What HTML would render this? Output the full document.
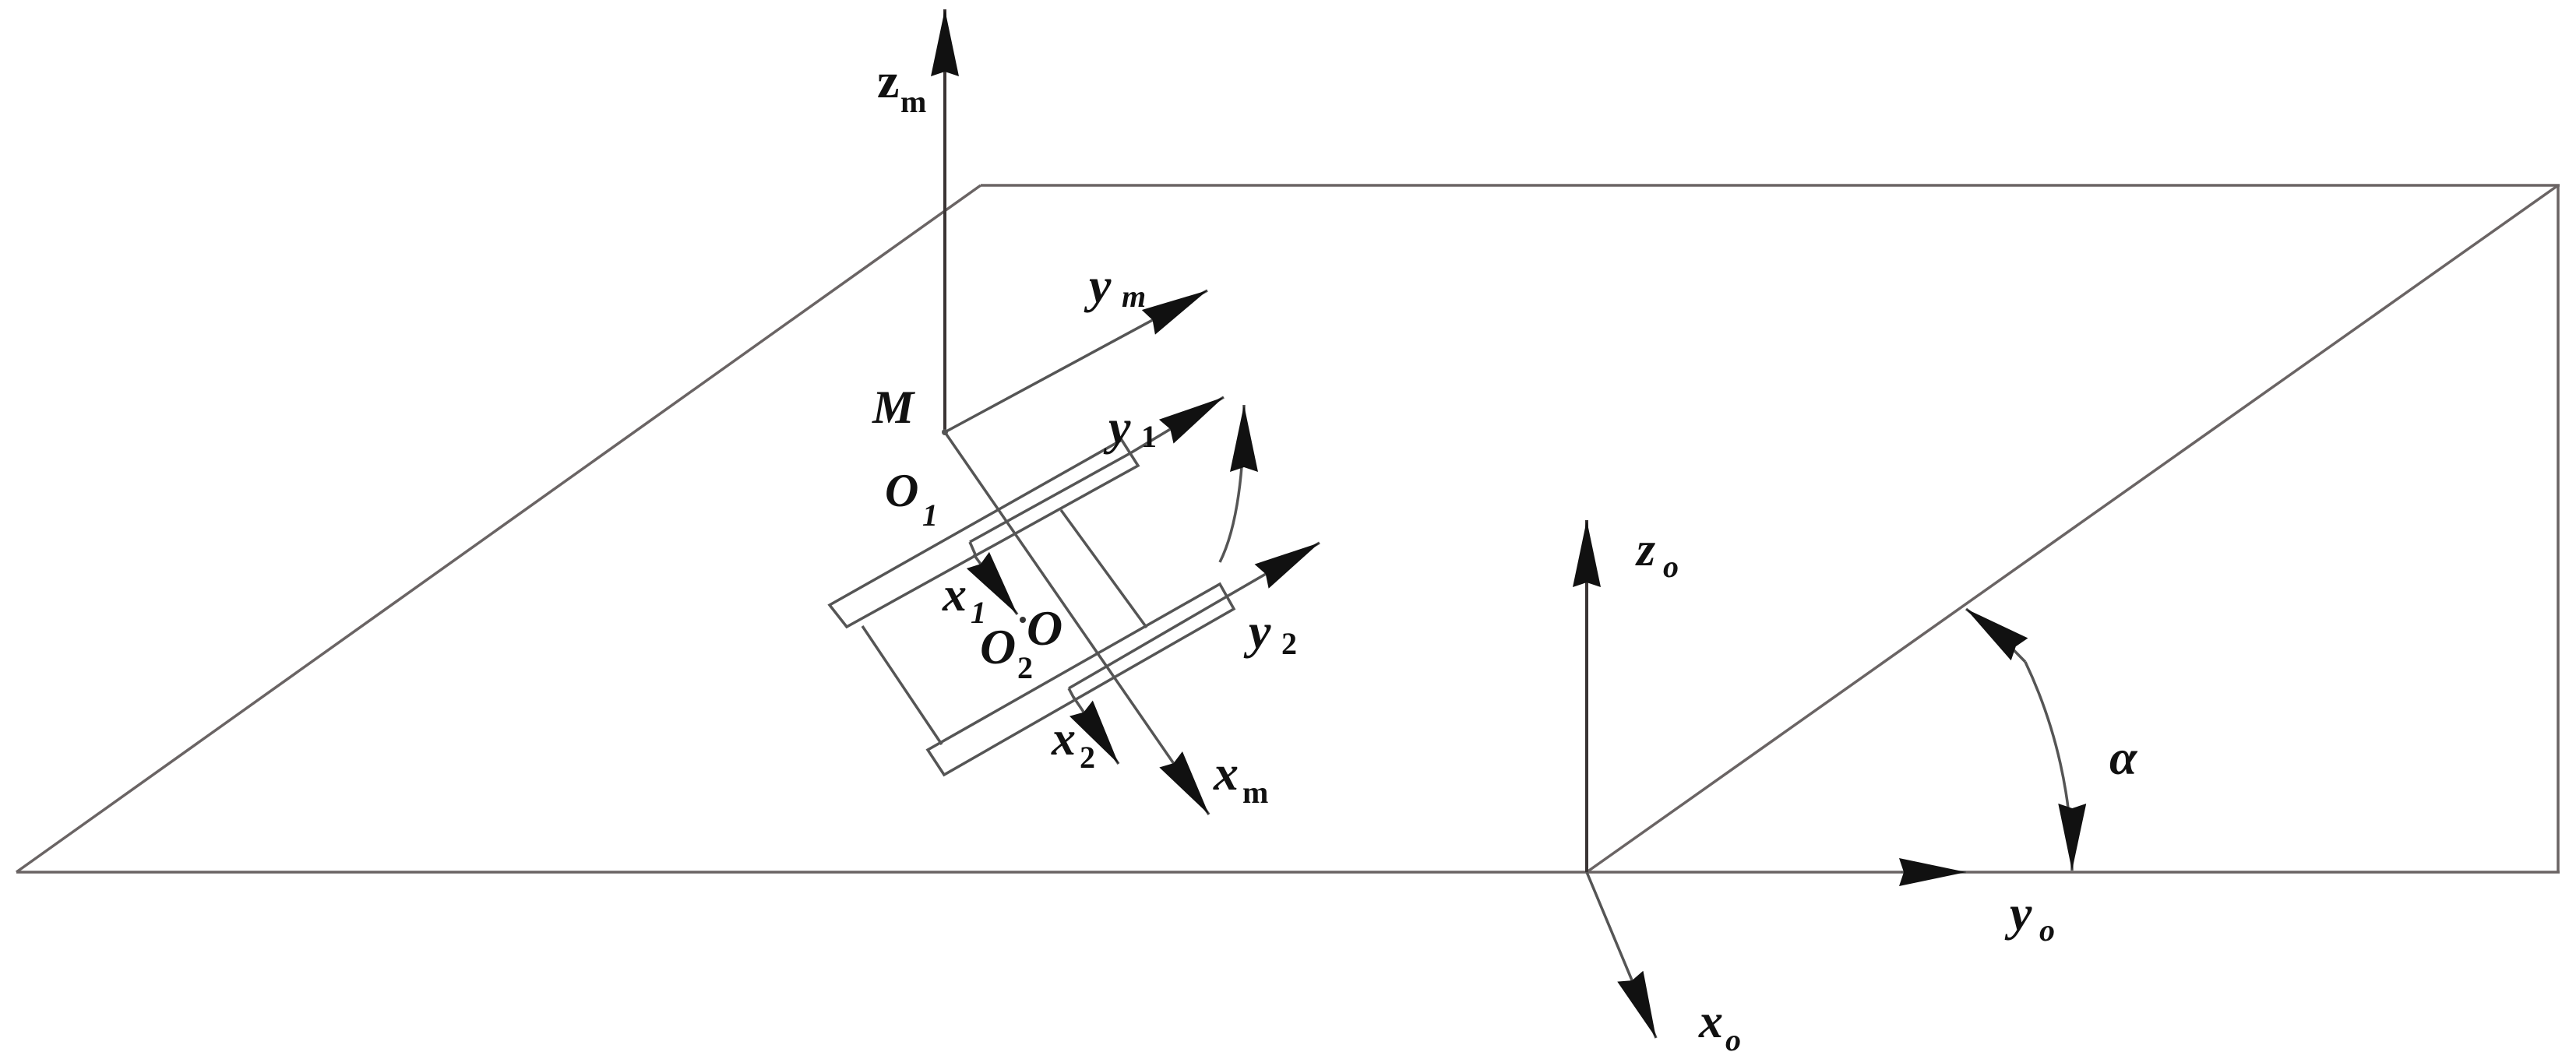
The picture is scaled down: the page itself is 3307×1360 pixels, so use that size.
<!DOCTYPE html>
<html><head><meta charset="utf-8"><style>
html,body{margin:0;padding:0;background:#fff;}
svg{display:block;}
text{font-family:"Liberation Serif",serif;font-style:italic;font-weight:bold;fill:#111;}
.sub{font-size:40px;}
</style></head><body>
<svg width="3307" height="1360" viewBox="0 0 3307 1360" xmlns="http://www.w3.org/2000/svg">
<defs>
<marker id="ah" markerUnits="userSpaceOnUse" markerWidth="96" markerHeight="44" refX="86" refY="18" orient="auto">
<path d="M0,0 L86,18 L0,36 L6,18 Z" fill="#111"/>
</marker>
</defs>
<g stroke="#6a6464" stroke-width="3.5" fill="none">
<line x1="21" y1="1120" x2="3286" y2="1120"/>
<line x1="21" y1="1120" x2="1259" y2="238"/>
<line x1="1259" y1="238" x2="3286" y2="238"/>
<line x1="3284" y1="238" x2="3284" y2="1120"/>
<line x1="2037" y1="1120" x2="3284" y2="238"/>
</g>
<g stroke="#3a3434" stroke-width="4" fill="none">
<line x1="1213" y1="555" x2="1213" y2="12" marker-end="url(#ah)"/>
<line x1="2037" y1="1120" x2="2037" y2="668" marker-end="url(#ah)"/>
</g>
<g stroke="#555" stroke-width="3.5" fill="none">
<line x1="1213" y1="555" x2="1550" y2="373" marker-end="url(#ah)"/>
<line x1="1213" y1="555" x2="1552" y2="1046" marker-end="url(#ah)"/>
<line x1="1451" y1="582" x2="1571" y2="510" marker-end="url(#ah)"/>
<line x1="1575" y1="766" x2="1694" y2="697" marker-end="url(#ah)"/>
<line x1="1250" y1="712" x2="1306" y2="789" marker-end="url(#ah)"/>
<line x1="1378" y1="895" x2="1436" y2="981" marker-end="url(#ah)"/>
<line x1="2037" y1="1120" x2="2126" y2="1333" marker-end="url(#ah)"/>
<polygon points="1065,777 1087,805 1461,598 1440,565"/>
<line x1="1245" y1="696" x2="1451" y2="582"/>
<line x1="1245" y1="696" x2="1252" y2="712"/>
<polygon points="1191,963 1212,995 1584,782 1566,750"/>
<line x1="1372" y1="884" x2="1575" y2="766"/>
<line x1="1372" y1="884" x2="1380" y2="899"/>
<line x1="1107" y1="804" x2="1209" y2="956"/>
<line x1="1362" y1="655" x2="1472" y2="806"/>
<path d="M1566,722 Q1597,660 1597,520" marker-end="url(#ah)"/>
<path d="M2600,850 A620,620 0 0 1 2660,1118" marker-end="url(#ah)"/>
<path d="M2600,850 A620,620 0 0 0 2524,782" marker-end="url(#ah)"/>
</g>
<line x1="2440" y1="1120" x2="2524" y2="1120" stroke="#555" stroke-width="3" marker-end="url(#ah)"/>
<circle cx="1213" cy="555" r="4" fill="#555"/>
<circle cx="1313" cy="796" r="4" fill="#333"/>
<text x="1126" y="125" font-size="64" style="font-style:normal">z</text><text x="1156" y="144" class="sub" style="font-style:normal">m</text>
<text x="1398" y="388" font-size="64">y</text><text x="1440" y="394" class="sub">m</text>
<text x="1120" y="543" font-size="60">M</text>
<text x="1423" y="570" font-size="64">y</text><text x="1465" y="574" class="sub" style="font-style:normal">1</text>
<text x="1136" y="650" font-size="60">O</text><text x="1184" y="675" class="sub">1</text>
<text x="1210" y="784" font-size="62">x</text><text x="1246" y="800" class="sub">1</text>
<text x="1318" y="828" font-size="64">O</text>
<text x="1258" y="852" font-size="64">O</text><text x="1306" y="871" class="sub" style="font-style:normal">2</text>
<text x="1603" y="832" font-size="64">y</text><text x="1645" y="840" class="sub" style="font-style:normal">2</text>
<text x="1350" y="969" font-size="62">x</text><text x="1386" y="986" class="sub" style="font-style:normal">2</text>
<text x="1558" y="1014" font-size="64">x</text><text x="1595" y="1031" class="sub" style="font-style:normal">m</text>
<text x="2101" y="726" font-size="62">z</text><text x="2135" y="741" class="sub">o</text>
<text x="2580" y="1194" font-size="64">y</text><text x="2618" y="1208" class="sub">o</text>
<text x="2181" y="1332" font-size="62">x</text><text x="2215" y="1349" class="sub">o</text>
<text x="2708" y="994" font-size="64">α</text>
</svg>
</body></html>
